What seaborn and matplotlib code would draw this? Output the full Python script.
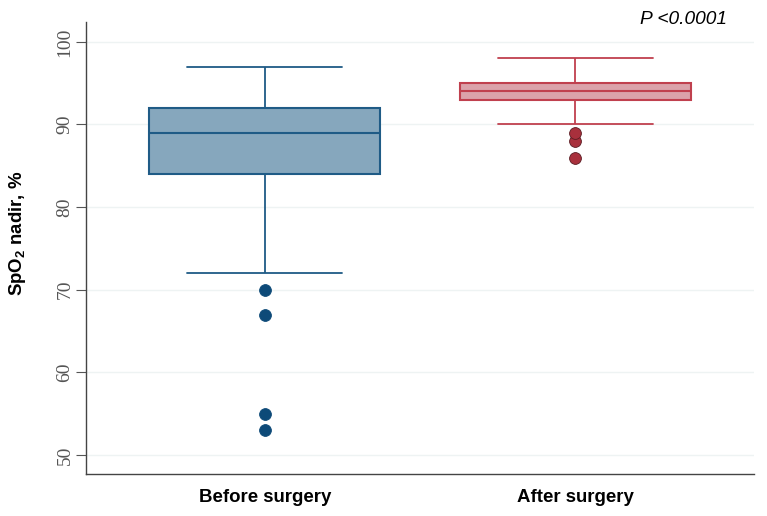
import matplotlib
matplotlib.use("Agg")
import matplotlib.pyplot as plt
import seaborn as sns
import pandas as pd

groups = ["Before surgery", "After surgery"]
before_values = [53, 55, 67, 70, 72, 84, 85, 86, 87, 88, 89, 90, 90, 91, 91, 92, 93, 94, 95, 96, 97]
after_values = [86, 88, 89, 90, 92, 93, 93, 93, 94, 94, 94, 94, 94, 95, 95, 95, 96, 96, 97, 97, 98]
y_ticks = [50, 60, 70, 80, 90, 100]
p_text = "P <0.0001"

df = pd.DataFrame({
    "group": [groups[0]] * len(before_values) + [groups[1]] * len(after_values),
    "value": before_values + after_values,
})

sns.set_theme(style="white")
plt.rcParams["mathtext.fontset"] = "custom"
plt.rcParams["mathtext.bf"] = "Liberation Sans:bold"
plt.rcParams["mathtext.rm"] = "Liberation Sans"

fig = plt.figure(figsize=(7.67, 5.16), dpi=100)
ax = fig.add_axes([86 / 767, 1 - 474 / 516, (754 - 86) / 767, (474 - 22) / 516])

fills = ["#86a7bd", "#dba2aa"]
edges = ["#1f5b86", "#c0404e"]
flier_fc = ["#0d4a78", "#a8303c"]
flier_ec = ["#0d4a78", "#5a1c22"]

for i, g in enumerate(groups):
    sub = df[df["group"] == g]
    sns.boxplot(
        data=sub, x="group", y="value", order=groups, ax=ax,
        width=0.745, whis=1.5,
        boxprops=dict(facecolor=fills[i], edgecolor=edges[i], linewidth=1.5),
        medianprops=dict(color=edges[i], linewidth=1.5),
        whiskerprops=dict(color=edges[i], linewidth=1.3),
        capprops=dict(color=edges[i], linewidth=1.3),
        flierprops=dict(marker="o", markersize=8.5, markerfacecolor=flier_fc[i],
                        markeredgecolor=flier_ec[i], markeredgewidth=0.6),
        capwidths=0.5,
    )

ax.set_xlim(-0.577, 1.577)
ax.set_ylim(47.7, 102.4)
ax.set_yticks(y_ticks)
ax.set_yticklabels([str(t) for t in y_ticks], rotation=90, va="center",
                   family="Liberation Serif", fontsize=14, color="#555555")
ax.set_xticks([0, 1])
ax.set_xticklabels(groups, fontsize=13.4, fontweight="bold", family="Liberation Sans", color="black")
ax.tick_params(axis="y", which="major", left=True, length=7, width=0.8, color="#555555", pad=2)
ax.tick_params(axis="x", bottom=False, pad=5)
ax.grid(axis="y", color="#eef3f3", linewidth=1)
ax.set_axisbelow(True)
ax.set_xlabel("")
ax.set_ylabel("")
for s in ["top", "right"]:
    ax.spines[s].set_visible(False)
for s in ["left", "bottom"]:
    ax.spines[s].set_color("#444444")
    ax.spines[s].set_linewidth(1)

fig.text(18 / 767, 1 - 233 / 516, r"SpO$_\mathbf{2}$ nadir, %", rotation=90,
         ha="center", va="center", fontsize=13.4, fontweight="bold",
         family="Liberation Sans", color="black")

fig.text(684 / 767, 1 - 20 / 516, p_text, ha="center", va="center", fontsize=13.8,
         style="italic", family="Liberation Sans", color="black")

fig.savefig("out.png", dpi=100)
